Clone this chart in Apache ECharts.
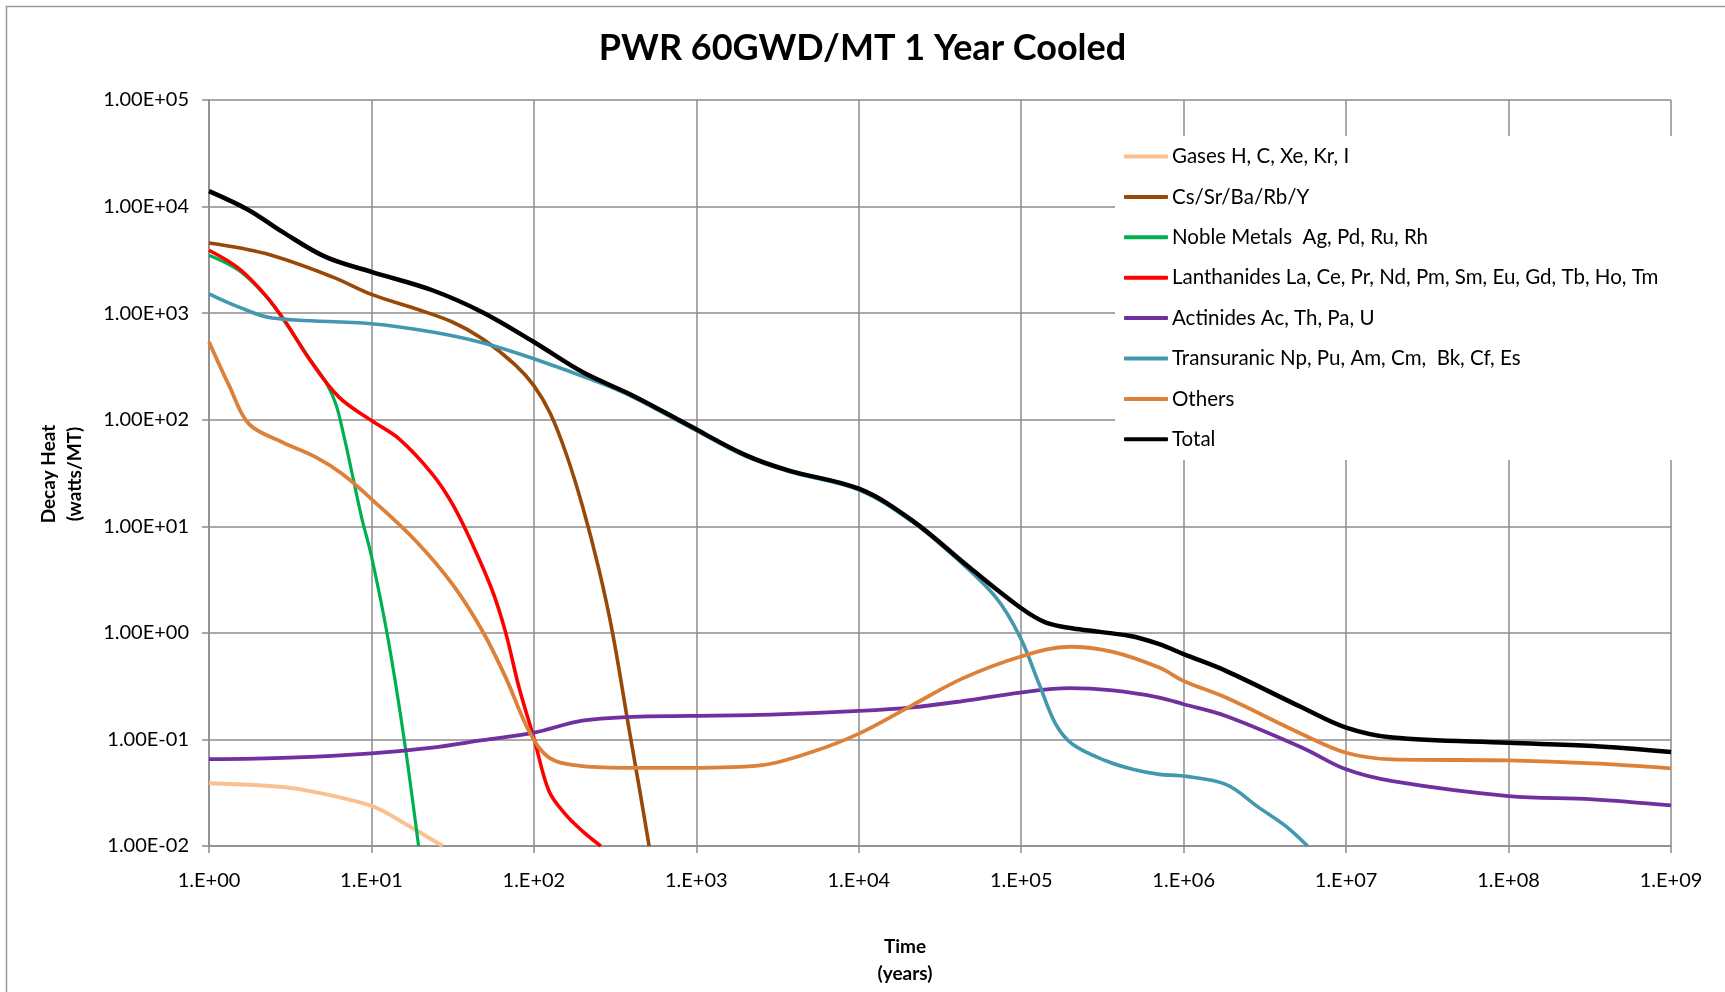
<!DOCTYPE html>
<html>
<head>
<meta charset="utf-8">
<script src="https://cdn.jsdelivr.net/npm/echarts@6/dist/echarts.min.js"></script>
<style>
html,body{margin:0;padding:0;background:#fff;}
#chart{width:1725px;height:992px;}
</style>
</head>
<body>
<div id="chart"></div>
<script>
// ---- data (time in years, decay heat in watts/MT) ----
const seriesNames = [
  'Gases H, C, Xe, Kr, I',
  'Cs/Sr/Ba/Rb/Y',
  'Noble Metals  Ag, Pd, Ru, Rh',
  'Lanthanides La, Ce, Pr, Nd, Pm, Sm, Eu, Gd, Tb, Ho, Tm',
  'Actinides Ac, Th, Pa, U',
  'Transuranic Np, Pu, Am, Cm,  Bk, Cf, Es',
  'Others',
  'Total'
];
const xTickLabels = ['1.E+00','1.E+01','1.E+02','1.E+03','1.E+04','1.E+05','1.E+06','1.E+07','1.E+08','1.E+09'];
const yTickLabels = ['1.00E-02','1.00E-01','1.00E+00','1.00E+01','1.00E+02','1.00E+03','1.00E+04','1.00E+05'];

const gases = [[1,0.0389],[2,0.0372],[3.58,0.0342],[10,0.0238],[16.3,0.016],[27.4,0.01]];
const csSr = [[1,4560],[2.23,3620],[5.74,2190],[10,1500],[18.7,1100],[31.5,826],[48.2,575],[77.3,324],[100,209],[126,115],[158,47.9],[200,15.1],[251,3.98],[305,1.0],[385,0.126],[445,0.0355],[512,0.01]];
const noble = [[1,3490],[1.53,2510],[2.23,1450],[2.96,813],[4.13,380],[5.25,224],[6.03,141],[6.76,70.8],[7.59,31.6],[8.71,12.0],[10,5.25],[12.6,0.912],[15.8,0.107],[19.5,0.01]];
const lanth = [[1,3890],[1.53,2620],[2.23,1470],[2.96,826],[4.13,373],[6.31,163],[10,98.2],[14.8,66.1],[23.7,30.9],[31.5,16.2],[41.9,6.76],[55.6,2.47],[67.1,1.0],[81.1,0.305],[100,0.103],[124,0.0326],[157,0.0197],[199,0.0138],[258,0.01]];
const actin = [[1,0.0652],[3.16,0.0676],[10,0.0741],[23.7,0.0839],[48.2,0.0984],[100,0.116],[199,0.150],[405,0.163],[904,0.166],[3160,0.172],[10100,0.185],[21400,0.2],[43600,0.229],[98600,0.275],[198000,0.303],[366000,0.288],[708000,0.247],[1e6,0.214],[1.82e6,0.166],[5.37e6,0.0836],[1e7,0.0524],[1.93e7,0.0406],[1e8,0.0294],[3.29e8,0.0274],[1e9,0.024]];
const transU = [[1,1520],[1.53,1140],[2.45,899],[10,796],[23.7,665],[48.2,527],[100,373],[251,224],[405,164],[904,86.1],[1995,45.7],[3720,32.7],[10100,21.9],[21400,11.0],[39800,5.01],[69800,2.15],[98600,0.906],[129000,0.33],[163000,0.139],[207000,0.0902],[332000,0.0631],[485000,0.0525],[708000,0.047],[1e6,0.0453],[1.82e6,0.0378],[2.92e6,0.0228],[4.27e6,0.0153],[5.79e6,0.01]];
const others = [[1,536],[1.33,209],[1.76,91.4],[2.83,61.5],[4.54,44.5],[6.62,30.9],[10,18.0],[18.7,7.31],[31.5,2.86],[48.2,1.04],[67.1,0.38],[93.3,0.12],[124,0.0676],[199,0.0562],[405,0.0542],[904,0.0542],[2550,0.0575],[5190,0.0766],[10100,0.114],[21400,0.21],[43600,0.374],[98600,0.597],[198000,0.741],[366000,0.664],[708000,0.472],[1e6,0.354],[1.82e6,0.247],[5.37e6,0.112],[1e7,0.075],[1.93e7,0.065],[1e8,0.0635],[3.29e8,0.0596],[1e9,0.0535]];
const total = [[1,13960],[1.76,9250],[2.83,5790],[5.22,3370],[10,2440],[23.7,1640],[48.2,1020],[100,536],[199,280],[405,169],[904,88.1],[1995,46.8],[3720,33.3],[10100,22.4],[21400,11.3],[47900,4.12],[98600,1.73],[142000,1.25],[228000,1.08],[462000,0.938],[708000,0.783],[1e6,0.631],[1.82e6,0.44],[5.37e6,0.199],[1e7,0.129],[1.93e7,0.104],[1e8,0.0931],[3.29e8,0.0867],[1e9,0.0762]];

const seriesData = [gases, csSr, noble, lanth, actin, transU, others, total];
const colors = ['#FAC090','#984807','#00B050','#FF0000','#7030A0','#4398B0','#DD8038','#000000'];
const widths = [4, 3.6, 3.2, 3.6, 3.8, 3.6, 3.8, 4.5];

const FONT = 'Lato';
const chart = echarts.init(document.getElementById('chart'), null, {renderer:'canvas'});
const gridColor = '#8c8c8c';

const option = {
  backgroundColor: '#ffffff',
  animation: false,
  title: {
    text: 'PWR 60GWD/MT 1 Year Cooled',
    left: 'center',
    top: 30,
    padding: 0,
    textStyle: {fontFamily: FONT, fontWeight: 'bold', fontSize: 36, color: '#000'}
  },
  grid: {left: 209, right: 54, top: 100, bottom: 146, containLabel: false},
  legend: {
    orient: 'vertical',
    left: 1124,
    top: 146,
    padding: 0,
    itemWidth: 44,
    itemHeight: 4,
    itemGap: 19.4,
    icon: 'roundRect',
    textStyle: {fontFamily: FONT, fontSize: 20.5, color: '#000', lineHeight: 21, padding: [0,0,0,-1]},
    data: seriesNames
  },
  xAxis: {
    type: 'log',
    logBase: 10,
    min: 1,
    max: 1e9,
    interval: 1,
    axisLine: {show: true, onZero: false, lineStyle: {color: gridColor, width: 1.5}},
    axisTick: {show: true, length: 7, lineStyle: {color: gridColor, width: 1.5}},
    splitLine: {show: true, lineStyle: {color: gridColor, width: 1.5}},
    minorTick: {show: false},
    axisLabel: {
      margin: 25,
      fontFamily: FONT, fontSize: 20, color: '#000',
      formatter: function (v) { return xTickLabels[Math.round(Math.log10(v))]; }
    }
  },
  yAxis: {
    type: 'log',
    logBase: 10,
    min: 0.01,
    max: 1e5,
    interval: 1,
    axisLine: {show: true, lineStyle: {color: gridColor, width: 1.5}},
    axisTick: {show: true, length: 7, lineStyle: {color: gridColor, width: 1.5}},
    splitLine: {show: true, lineStyle: {color: gridColor, width: 1.5}},
    axisLabel: {
      margin: 20,
      fontFamily: FONT, fontSize: 20, color: '#000',
      formatter: function (v) { return yTickLabels[Math.round(Math.log10(v)) + 2]; }
    }
  },
  graphic: [
    {type: 'polyline', z: 0, silent: true,
     shape: {points: [[6.5, 992], [6.5, 6.5], [1725, 6.5]]},
     style: {stroke: '#9a9a9a', lineWidth: 1.5, fill: null}},
    {type: 'rect', z: 1, silent: true,
     shape: {x: 1115, y: 136, width: 600, height: 324},
     style: {fill: '#ffffff'}},
    {type: 'text', z: 5, silent: true, x: 62, y: 474, rotation: Math.PI / 2,
     style: {text: 'Decay Heat\n(watts/MT)', align: 'center', verticalAlign: 'middle',
             fontFamily: FONT, fontWeight: 'bold', fontSize: 19, lineHeight: 26, fill: '#000'}},
    {type: 'text', z: 5, silent: true, x: 905, y: 960,
     style: {text: 'Time\n(years)', align: 'center', verticalAlign: 'middle',
             fontFamily: FONT, fontWeight: 'bold', fontSize: 19, lineHeight: 27, fill: '#000'}}
  ],
  series: seriesNames.map(function (name, i) {
    return {
      name: name,
      type: 'line',
      data: seriesData[i],
      smooth: 0.35,
      symbol: 'none',
      clip: true,
      z: 2 + i * 0.01,
      lineStyle: {color: colors[i], width: widths[i]},
      itemStyle: {color: colors[i]}
    };
  })
};
chart.setOption(option);
</script>
</body>
</html>
